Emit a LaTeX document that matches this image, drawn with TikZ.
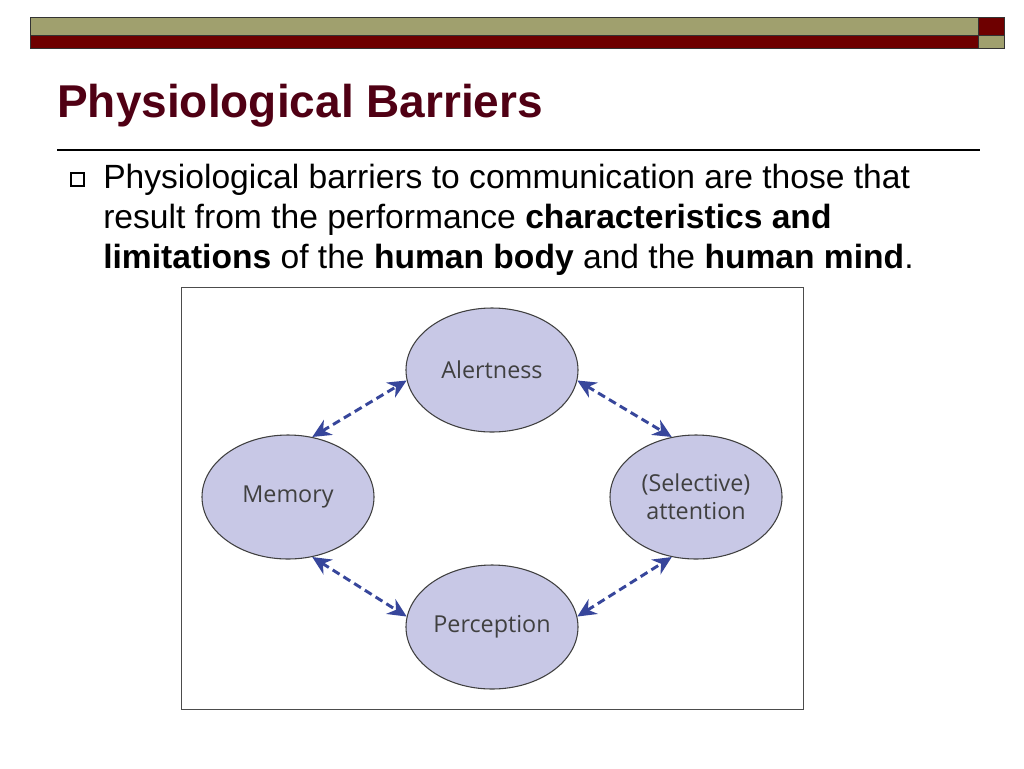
\documentclass[tikz,border=0pt]{standalone}
\usepackage{fontspec}
\setmainfont{Liberation Sans}
\usetikzlibrary{arrows.meta,shapes.geometric}
\definecolor{olive}{RGB}{160,160,110}
\definecolor{dred}{RGB}{110,0,0}
\definecolor{ttl}{RGB}{80,0,20}
\definecolor{lav}{RGB}{200,200,230}
\definecolor{arr}{RGB}{55,70,155}
\tikzset{el/.style={draw=black!75,line width=0.8pt,fill=lav,ellipse,minimum width=129pt,minimum height=93pt,inner sep=0pt,align=center,text=black!75,font=\fontspec{Open Sans}\fontsize{17.5}{21}\selectfont},
con/.style={arr,line width=2.2pt,dash pattern=on 6pt off 3.5pt,{Stealth[length=14pt,width=13pt]}-{Stealth[length=14pt,width=13pt]}}}
\begin{document}
\begin{tikzpicture}[x=0.75pt,y=-0.75pt]
\useasboundingbox (0,0) rectangle (1024,768);
\fill[white] (0,0) rectangle (1024,768);
\draw[black!80,fill=olive] (30,17) rectangle (978,35);
\draw[black!80,fill=dred] (30,35) rectangle (978,48);
\draw[black!80,fill=dred] (978,17) rectangle (1004,35);
\draw[black!80,fill=olive] (978,35) rectangle (1004,48);
\node[anchor=base west,text=ttl,font=\bfseries\fontsize{34.5}{40}\selectfont,inner sep=0pt] (title) at (57,117) {Physiological Barriers};
\draw[black,line width=0.8pt] (57,150) -- (980,150);
\draw[black,line width=0.8pt] (71,173) rectangle (84,186);
\node[anchor=north west,inner sep=0pt,align=left,font=\fontsize{25.2}{30}\selectfont] (txt) at (103,164)
{Physiological barriers to communication are those that\\result from the performance \textbf{characteristics and}\\\textbf{limitations} of the \textbf{human body} and the \textbf{human mind}.};
\draw[black!70,line width=0.6pt] (181,287) rectangle (803,709);
\node[el] (a) at (492,370) {Alertness};
\node[el] (m) at (288,497) {Memory};
\node[el] (s) at (696,497) {(Selective)\\attention};
\node[el] (p) at (492,627) {Perception};
\draw[con] (m.68) -- (a.187);
\draw[con] (a.-7) -- (s.112);
\draw[con] (m.-68) -- (p.173);
\draw[con] (p.7) -- (s.-112);
\end{tikzpicture}
\end{document}
